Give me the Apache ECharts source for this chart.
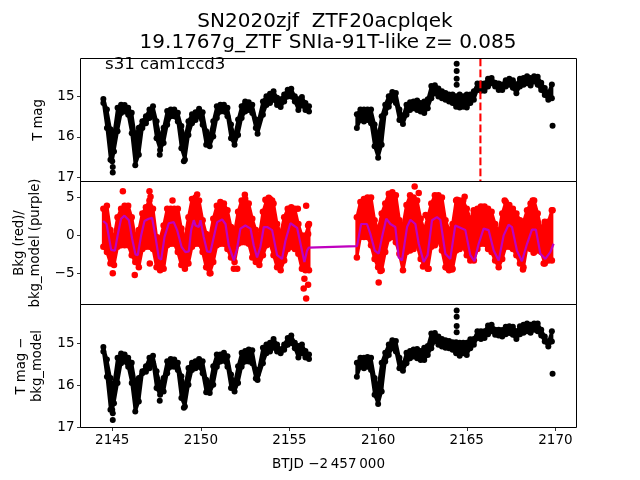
<!DOCTYPE html>
<html><head><meta charset="utf-8">
<style>html,body{margin:0;padding:0;background:#fff}#c{width:640px;height:480px}</style>
<script src="https://cdn.jsdelivr.net/npm/echarts@6/dist/echarts.min.js"></script>
</head><body><div id="c"></div>
<script>
const blackTimesA=[2144.5,2144.7,2144.9,2145.0,2145.1,2145.3,2145.5,2145.7,2145.9,2146.1,2146.3,2146.5,2146.7,2146.9,2147.1,2147.3,2147.5,2147.7,2147.9,2148.1,2148.3,2148.5,2148.7,2148.9,2149.1,2149.3,2149.5,2149.7,2149.9,2150.1,2150.3,2150.5,2150.7,2150.9,2151.1,2151.3,2151.5,2151.7,2151.9,2152.1,2152.3,2152.5,2152.7,2152.9,2153.1,2153.2,2153.5,2153.7,2153.9,2154.1,2154.3,2154.5,2154.7,2154.9,2155.1,2155.3,2155.5,2155.7,2155.9,2156.1];
const blackTimesB=[2158.8,2159.0,2159.2,2159.4,2159.6,2159.8,2160.0,2160.2,2160.4,2160.6,2160.8,2161.0,2161.2,2161.4,2161.6,2161.8,2162.0,2162.2,2162.4,2162.6,2162.8,2163.0,2163.2,2163.4,2163.6,2163.8,2164.0,2164.2,2164.4,2164.6,2164.8,2165.0,2165.2,2165.4,2165.6,2165.8,2166.0,2166.2,2166.4,2166.6,2166.8,2167.0,2167.2,2167.4,2167.6,2167.8,2168.0,2168.2,2168.4,2168.6,2168.8,2169.0,2169.2,2169.4,2169.6,2169.8];

const magTopA=[15.06,15.32,15.81,16.14,15.9,15.28,15.2,15.21,15.28,15.4,15.98,15.77,15.61,15.49,15.32,15.24,15.61,15.98,15.77,15.36,15.32,15.32,15.4,15.73,16.02,15.61,15.44,15.39,15.3,15.39,15.86,15.98,15.61,15.24,15.2,15.2,15.28,15.69,15.98,15.57,15.24,15.12,15.14,15.2,15.57,15.69,15.12,14.99,14.93,14.87,15.03,15.07,14.95,14.83,14.81,14.99,15.07,15.01,15.16,15.24];
const magBotA=[15.16,15.78,16.56,16.6,16.36,15.86,15.41,15.37,15.45,15.91,16.7,16.44,15.78,15.66,15.53,15.45,16.03,16.32,16.15,15.7,15.49,15.49,15.62,16.28,16.56,15.95,15.66,15.58,15.49,15.7,16.19,16.23,15.99,15.53,15.37,15.37,15.49,16.03,16.19,15.95,15.53,15.37,15.33,15.41,15.78,15.92,15.45,15.21,15.16,15.08,15.21,15.26,15.12,15.0,15.0,15.12,15.33,15.22,15.33,15.37];
const magTopB=[15.44,15.32,15.32,15.32,15.32,15.69,15.98,15.49,15.2,14.99,14.89,14.91,15.32,15.49,15.2,15.14,15.12,15.1,15.16,15.12,15.07,14.74,14.72,14.8,14.87,14.91,14.95,14.95,14.99,14.95,14.99,14.95,14.95,14.87,14.68,14.68,14.68,14.56,14.54,14.66,14.68,14.7,14.6,14.56,14.6,14.7,14.56,14.54,14.5,14.54,14.5,14.51,14.66,14.79,14.91,14.7];
const magBotB=[15.78,15.58,15.62,15.58,15.66,16.23,16.51,16.19,15.41,15.25,15.08,15.16,15.58,15.68,15.45,15.33,15.29,15.33,15.37,15.41,15.29,15.04,14.92,15.0,15.04,15.08,15.12,15.16,15.25,15.27,15.25,15.27,15.16,15.08,14.84,14.86,14.86,14.75,14.67,14.75,14.84,14.84,14.75,14.71,14.78,14.92,14.75,14.71,14.67,14.73,14.63,14.71,14.84,14.96,15.08,15.04];
const magOutT=[2145.03,2145.03,2147.68,2149.04,2164.43,2164.43,2164.43,2164.43,2169.84];
const magOutV=[16.74,16.88,16.44,16.6,14.19,14.37,14.56,14.71,15.72];

const corrTopA=[15.08,15.38,15.82,16.17,15.94,15.34,15.24,15.26,15.34,15.46,15.94,15.82,15.66,15.54,15.34,15.29,15.66,15.94,15.82,15.42,15.37,15.38,15.46,15.78,16.02,15.58,15.46,15.42,15.37,15.42,15.86,15.98,15.54,15.26,15.26,15.22,15.3,15.74,15.94,15.54,15.22,15.18,15.14,15.16,15.62,15.74,15.1,15.02,14.98,14.89,15.02,15.14,15.02,14.87,14.81,14.98,15.06,15.02,15.18,15.26];
const corrBotA=[15.19,15.79,16.58,16.58,16.42,15.94,15.47,15.43,15.55,15.94,16.62,16.38,15.71,15.67,15.59,15.47,16.06,16.22,16.14,15.71,15.55,15.55,15.63,16.3,16.5,15.98,15.63,15.59,15.55,15.71,16.16,16.18,15.98,15.55,15.43,15.41,15.55,16.06,16.14,15.94,15.55,15.43,15.43,15.47,15.83,15.87,15.47,15.23,15.19,15.1,15.19,15.23,15.15,15.03,14.99,15.11,15.33,15.23,15.33,15.37];
const corrTopB=[15.46,15.34,15.34,15.32,15.34,15.82,16.02,15.46,15.22,15.02,14.92,14.94,15.34,15.5,15.22,15.18,15.14,15.13,15.18,15.1,15.06,14.76,14.75,14.83,14.89,14.92,14.94,14.97,14.97,14.98,14.98,14.98,14.9,14.89,14.71,14.71,14.71,14.57,14.55,14.67,14.67,14.68,14.6,14.59,14.6,14.71,14.59,14.55,14.52,14.55,14.52,14.52,14.67,14.83,14.97,14.71];
const corrBotB=[15.79,15.55,15.59,15.55,15.63,16.22,16.44,16.14,15.43,15.27,15.11,15.19,15.59,15.65,15.47,15.35,15.31,15.35,15.39,15.39,15.27,15.11,14.94,15.03,15.07,15.1,15.11,15.15,15.23,15.29,15.23,15.27,15.11,15.03,14.87,14.89,14.87,14.78,14.71,14.79,14.81,14.83,14.78,14.75,14.79,14.89,14.78,14.74,14.71,14.74,14.67,14.71,14.81,14.95,15.07,14.95];
const corrOutT=[2145.03,2145.03,2147.68,2149.04,2164.43,2164.43,2164.43,2164.43,2169.84];
const corrOutV=[16.66,16.82,16.36,16.53,14.21,14.36,14.58,14.73,15.72];

const bkgTimesA=[2144.5,2144.7,2144.9,2145.1,2145.3,2145.5,2145.7,2145.9,2146.1,2146.3,2146.5,2146.7,2146.9,2147.1,2147.3,2147.5,2147.7,2147.9,2148.1,2148.3,2148.5,2148.7,2148.9,2149.1,2149.3,2149.5,2149.7,2149.9,2150.1,2150.3,2150.5,2150.7,2150.9,2151.1,2151.3,2151.5,2151.7,2151.9,2152.1,2152.3,2152.5,2152.7,2152.9,2153.1,2153.3,2153.5,2153.7,2153.9,2154.1,2154.3,2154.5,2154.7,2154.9,2155.1,2155.3,2155.5,2155.7,2155.9,2156.1];
const bkgHighA=[3.5,3.9,0.7,-0.2,2.4,3.5,3.9,3.9,2.4,-0.2,0.7,2.9,3.7,4.6,3.5,-0.2,-0.4,1.3,3.5,3.5,3.5,3.5,0.9,-0.4,2.4,4.8,5.0,4.6,2.0,0.2,-0.2,2.2,3.9,4.4,4.2,3.3,1.1,0.4,3.1,4.6,4.8,4.2,2.2,0.7,0,3.1,4.6,4.8,4.2,1.5,0.2,2.4,3.5,3.7,3.5,1.5,0,0,1.5];
const bkgLowA=[-1.5,-2.2,-3.7,-3.9,-1.5,-1.3,-1.3,-1.3,-2.6,-3.5,-4.2,-1.8,-1.5,-1.5,-1.8,-4.2,-4.6,-4.4,-1.3,-1.1,-1.1,-2.2,-3.9,-4.4,-3.7,-1.5,-1.1,-1.1,-2.2,-4.2,-5,-3.5,-1.3,-1.1,-1.1,-1.8,-2.9,-3.5,-1.1,-0.9,-0.9,-1.1,-2.9,-3.5,-3.9,-2.6,-1.3,-1.1,-2.6,-4.2,-4.6,-3.3,-1.8,-1.5,-1.8,-2.4,-4.4,-4.6,-4.6];
const bkgTimesB=[2158.8,2159.0,2159.2,2159.4,2159.6,2159.8,2160.0,2160.2,2160.4,2160.6,2160.8,2161.0,2161.2,2161.4,2161.6,2161.8,2162.0,2162.2,2162.4,2162.6,2162.8,2163.0,2163.2,2163.4,2163.6,2163.8,2164.0,2164.2,2164.4,2164.6,2164.8,2165.0,2165.2,2165.4,2165.6,2165.8,2166.0,2166.2,2166.4,2166.6,2166.8,2167.0,2167.2,2167.4,2167.6,2167.8,2168.0,2168.2,2168.4,2168.6,2168.8,2169.0,2169.2,2169.4,2169.6,2169.8];
const bkgHighB=[2.4,4.4,4.8,5.0,5.0,2.0,0.7,2.9,4.2,5.5,5.7,5.3,2,1.3,4,5.3,5,4.6,2.2,0.7,2.4,4.2,5.3,5.3,5,2,0.7,1.5,4.6,4.6,4.6,3.5,2.2,2.9,3.5,3.8,3.8,3.5,3.1,1.5,0.4,2.9,4.4,4,3.5,2.9,2,1.8,3.3,4.2,4.6,2.9,0.9,1.8,1.8,3.3];
const bkgLowB=[-2.9,-0.2,-0.2,-0.2,-1.3,-3.1,-4.2,-4.6,-2.2,-0.4,-0.2,-0.9,-2.4,-4.6,-2.2,-2,-1.8,-1.3,-3.1,-3.9,-4.4,-1.5,-1.3,-0.7,-2,-4.2,-4.6,-4.4,-2,-1.8,-1.5,-2.6,-3.3,-3.3,-1.8,-1.1,-1.1,-1.8,-2.2,-3.3,-4.2,-3.1,-1.5,-1.5,-1.8,-2.6,-3.7,-4.2,-1.5,-1.8,-2.2,-2,-2.2,-3.7,-3.3,-3.3];
const bkgOutT=[2145.6,2147.1,2147.16,2148.4,2145.03,2146.27,2147.12,2151.86,2152.05,2150.54,2155.94,2155.47,2156.05,2156.05,2155.84,2156.05,2155.8,2155.94,2149.79,2152.48,2153.83,2153.64,2154.02,2162.06,2162.29,2160.03,2162.68,2165.39,2164.45,2164.88,2164.73,2168.17,2168.77,2169.34,2162.53,2162.85,2163.89,2164.17,2160.13,2167.14,2168.72,2169.84];
const bkgOutV=[5.8,5.8,5.1,4.6,-5.0,-5.2,-3.7,-4.4,-4.4,-5.0,3.9,3.5,0.2,1.3,-5.7,-6.5,-7.0,-8.3,5.4,5.35,4.96,4.7,4.6,6.45,5.6,-6.2,2.7,3.3,4.7,5.1,4.4,-4.5,-2.3,-3.7,-4.1,-4.4,-4.25,-4.5,-4.7,4.6,4.6,3.3];

const modelTimes=[2144.49,2144.68,2144.81,2144.94,2145.15,2145.32,2145.5,2145.69,2145.94,2146.12,2146.31,2146.44,2146.63,2146.82,2147.06,2147.25,2147.44,2147.63,2147.76,2147.95,2148.19,2148.47,2148.66,2148.91,2149.13,2149.32,2149.45,2149.6,2149.7,2149.88,2149.98,2150.16,2150.35,2150.54,2150.73,2150.92,2151.2,2151.39,2151.57,2151.86,2152.04,2152.23,2152.51,2152.8,2152.98,2153.17,2153.36,2153.55,2153.74,2154.02,2154.3,2154.58,2154.77,2155.05,2155.43,2155.62,2155.84,2155.99,2156.09,2158.81,2159.04,2159.37,2159.56,2159.81,2160.03,2160.22,2160.46,2160.69,2160.97,2161.16,2161.35,2161.63,2161.82,2162.1,2162.29,2162.57,2162.79,2163.04,2163.32,2163.51,2163.79,2164.07,2164.35,2164.92,2165.2,2165.43,2165.67,2165.95,2166.23,2166.52,2166.8,2167.08,2167.36,2167.55,2167.83,2168.11,2168.4,2168.68,2168.9,2169.15,2169.43,2169.71,2169.9];
const modelValues=[1.9,1.5,-0.2,-1.9,-2.0,0.2,2.2,2.6,2.0,-0.4,-2.5,-2.6,0,1.9,2.2,2.3,-0.2,-3.0,-3.2,-0.2,1.6,1.75,0.7,-1.5,-2.2,-2.1,0.7,2.0,1.3,1.1,2.0,-0.2,-2.1,-2.2,-0.2,1.75,2.1,1.5,-1.3,-3.3,-1.75,0.9,1.3,0.9,-1.3,-2.9,-1.5,1.1,1.1,0.7,-2.6,-3.1,-0.7,1.6,1.0,-1.1,-3.5,-2.0,-1.6,-1.4,1.5,1.5,0.2,-2.0,-2.4,-0.2,2.2,1.5,1.1,-2.9,-3.3,1.1,2.06,1.5,-1.1,-3.5,-2.6,2,2.4,2.06,-2.4,-3.1,1.3,0.7,-2.6,-3.4,-1.1,0.9,0.7,-2,-3.3,0,1.4,1.1,-2,-3.4,-1.1,0.75,0.75,-2.4,-3.1,-2.2,-1.1];

const eventTime=[2165.77,2165.77];
const eventMag=[14.06,17.1];
const xTicks=[2145,2150,2155,2160,2165,2170];
const yTicks1=[15,16,17];
const yTicks2=[5,0,-5];
const yTicks3=[15,16,17];

const font='"DejaVu Sans"';
const zip=(a,b)=>a.map((x,i)=>[x,b[i]]);
const fill=(idx,t,a,b,col)=>({type:'custom',xAxisIndex:idx,yAxisIndex:idx,silent:true,animation:false,z:2,clip:false,
  data:t.map((x,i)=>[x,a[i],b[i]]),
  encode:{x:0,y:[1,2]},
  renderItem:(p,api)=>{
    const i=p.dataIndex;
    if(i>=t.length-1)return null;
    const pts=[[t[i],a[i]],[t[i+1],a[i+1]],[t[i+1],b[i+1]],[t[i],b[i]]].map(d=>api.coord(d));
    return {type:'polygon',shape:{points:pts},style:{fill:col,stroke:col,lineWidth:3,lineJoin:'round'}};
  }});
const dots=(idx,data,col,s)=>({type:'scatter',xAxisIndex:idx,yAxisIndex:idx,data,symbol:'circle',symbolSize:s,itemStyle:{color:col,opacity:1},silent:true,animation:false,z:3,large:false});
const env=(idx,t,a,b,col,s)=>[fill(idx,t,a,b,col),dots(idx,zip(t,a).concat(zip(t,b)),col,s)];
const axisLine={show:false,onZero:false};
const xAx=(i,shown)=>({type:'value',gridIndex:i,min:2143.21,max:2171.19,splitLine:{show:false},axisLine,
  axisTick:{show:shown,length:3.5,customValues:xTicks,lineStyle:{color:'#000',width:0.8}},
  axisLabel:{show:shown,customValues:xTicks,formatter:v=>String(v),color:'#000',fontFamily:font,fontSize:13.5,margin:6,hideOverlap:false},
  name:shown?'BTJD \u22122\u2009457\u2009000':'',nameLocation:'middle',nameGap:30,nameTextStyle:{color:'#000',fontFamily:font,fontSize:13.5}});
const yAx=(i,min,max,inv,ticks,name,gap)=>({type:'value',gridIndex:i,min,max,inverse:inv,splitLine:{show:false},axisLine,
  axisTick:{show:true,length:3.5,customValues:ticks,lineStyle:{color:'#000',width:0.8}},
  axisLabel:{customValues:ticks,formatter:v=>String(v).replace('-','\u2212'),color:'#000',fontFamily:font,fontSize:13.5,margin:6,padding:[2,0,0,0]},
  name,nameLocation:'middle',nameRotate:90,nameGap:gap,nameTextStyle:{color:'#000',fontFamily:font,fontSize:13.2,lineHeight:16}});
const border=(top)=>({left:80.5,top,width:496,height:123,show:true,borderColor:'#000',borderWidth:1,backgroundColor:'transparent',containLabel:false,outerBoundsMode:'none',z:6});

const chart=echarts.init(document.getElementById('c'),null,{renderer:'canvas'});
chart.setOption({animation:false,backgroundColor:'#fff',
  title:[
    {text:'SN2020zjf  ZTF20acplqek',left:325,top:12,padding:0,textAlign:'center',textStyle:{fontFamily:font,fontSize:20,fontWeight:'normal',color:'#000'}},
    {text:'19.1767g_ZTF SNIa-91T-like z= 0.085',left:328,top:33,padding:0,textAlign:'center',textStyle:{fontFamily:font,fontSize:20,fontWeight:'normal',color:'#000'}},
    {text:'s31 cam1ccd3',left:105,top:56,padding:0,textStyle:{fontFamily:font,fontSize:16.6,fontWeight:'normal',color:'#000'}}
  ],
  grid:[border(58.5),border(181.5),border(304.5)],
  xAxis:[xAx(0,false),xAx(1,false),xAx(2,true)],
  yAxis:[
    yAx(0,14.06,17.1,true,yTicks1,'T mag',27),
    yAx(1,-9.1,7.1,false,yTicks2,'Bkg (red)/\nbkg_model (purple)',35),
    yAx(2,14.07,17.0,true,yTicks3,'T mag \u2212\nbkg_model',35)
  ],
  series:[
    ...env(0,blackTimesA,magTopA,magBotA,'#000',6),
    ...env(0,blackTimesB,magTopB,magBotB,'#000',6),
    dots(0,zip(magOutT,magOutV),'#000',6),
    {type:'line',xAxisIndex:0,yAxisIndex:0,data:zip(eventTime,eventMag),symbol:'none',lineStyle:{color:'#ff0000',width:2.1,type:[7.7,3.3]},silent:true,z:4},
    ...env(1,bkgTimesA,bkgHighA,bkgLowA,'#ff0000',6.5),
    ...env(1,bkgTimesB,bkgHighB,bkgLowB,'#ff0000',6.5),
    dots(1,zip(bkgOutT,bkgOutV),'#ff0000',6.5),
    {type:'line',xAxisIndex:1,yAxisIndex:1,data:zip(modelTimes,modelValues),symbol:'none',lineStyle:{color:'#bf00bf',width:2.2},silent:true,z:5},
    ...env(2,blackTimesA,corrTopA,corrBotA,'#000',6),
    ...env(2,blackTimesB,corrTopB,corrBotB,'#000',6),
    dots(2,zip(corrOutT,corrOutV),'#000',6)
  ]
});
</script></body></html>
